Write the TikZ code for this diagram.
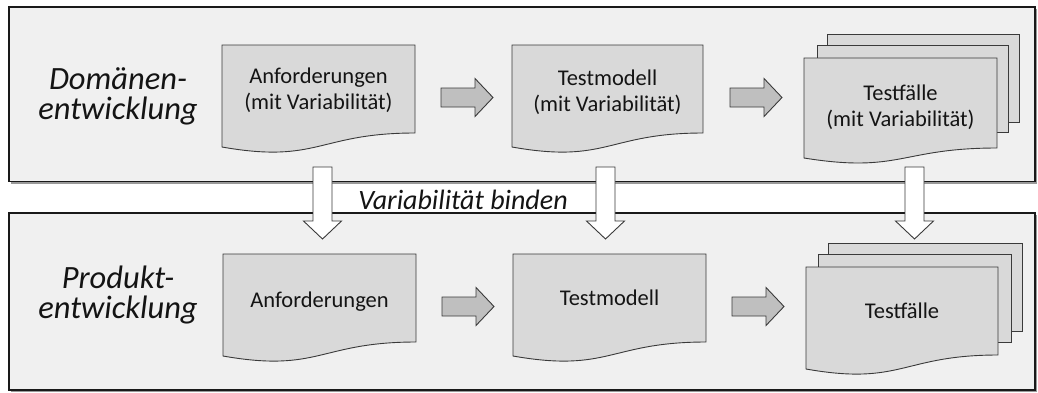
\documentclass[tikz,border=0pt]{standalone}
\usepackage{fontspec}
\setmainfont{Carlito}
\definecolor{panelfill}{HTML}{F0F0F0}
\definecolor{docfill}{HTML}{D9D9D9}
\definecolor{arrowfill}{HTML}{BFBFBF}
\definecolor{edgegray}{HTML}{3A3A3A}
\definecolor{inktext}{HTML}{141414}

% document sheet with wavy lower edge:
% #1 left, #2 top, #3 right, #4 right-edge drop, #5 left-edge drop, #6 wave control depth
\newcommand\docsheet[6]{%
  \filldraw[docstyle] (#1,#2) -- (#3,#2) -- (#3,#2+#4)
    .. controls ({(#1+#3)/2},#2+#4) and ({(#1+#3)/2},#2+#6) .. (#1,#2+#5) -- cycle;}

\begin{document}
\begin{tikzpicture}[x=1pt,y=-1pt,
  panel/.style={fill=panelfill,draw=black!90,line width=1.1pt},
  panelshadow/.style={fill=black!40},
  docstyle/.style={fill=docfill,draw=edgegray,line width=0.9pt},
  doctext/.style={font=\fontsize{22.5}{26}\selectfont,align=center,text=inktext,inner sep=0pt},
  phase/.style={font=\fontsize{32.5}{30}\selectfont\itshape,align=center,text=inktext,inner sep=0pt},
  bindlabel/.style={font=\fontsize{28}{30}\selectfont\itshape,text=inktext,inner sep=0pt,anchor=base},
  flowarrow/.style={fill=arrowfill,draw=edgegray,line width=0.9pt},
  bindarrow/.style={fill=white,draw=edgegray,line width=0.9pt},
  pics/rightarrow/.style={code={%
    \filldraw[flowarrow] (0,-9.5) -- (34,-9.5) -- (34,-19) -- (52,0) -- (34,19) -- (34,9.5) -- (0,9.5) -- cycle;}},
  pics/downarrow/.style={code={%
    \filldraw[bindarrow] (-9.5,0) -- (-9.5,54) -- (-19,54) -- (0,72) -- (19,54) -- (9.5,54) -- (9.5,0) -- cycle;}},
]
\useasboundingbox (0,0) rectangle (1038,392);
\fill[white] (0,0) rectangle (1038,392);

% the two phase panels
\fill[panelshadow] (11,9) rectangle (1037,183.5);
\filldraw[panel] (9,7) rectangle (1035,181.5);
\fill[panelshadow] (11,215) rectangle (1037,392);
\filldraw[panel] (9,213) rectangle (1035,390);

% domain engineering artefacts
\docsheet{222}{45}{415}{88}{102}{119}
\docsheet{512}{45}{703}{88}{102}{119}
\filldraw[docstyle] (827,34) rectangle (1019,122);
\filldraw[docstyle] (817,45) rectangle (1008,132);
\docsheet{804}{58}{997}{90}{100}{115.5}

% application engineering artefacts
\docsheet{223}{254}{416}{88}{102}{119}
\docsheet{513}{254}{706}{88}{102}{119}
\filldraw[docstyle] (828,243) rectangle (1022,331);
\filldraw[docstyle] (818,254) rectangle (1011,342);
\docsheet{806}{267}{998}{88}{102}{119}

% texts
\node[phase] (dom) at (118,96) {Domänen-\\entwicklung};
\node[phase] (prod) at (118,294.5) {Produkt-\\entwicklung};
\node[doctext] (req1) at (318.5,90) {Anforderungen\\(mit Variabilität)};
\node[doctext] (model1) at (607.5,92) {Testmodell\\(mit Variabilität)};
\node[doctext] (cases1) at (900.5,107) {Testfälle\\(mit Variabilität)};
\node[doctext,anchor=base] (req2) at (319.5,307) {Anforderungen};
\node[doctext,anchor=base] (model2) at (609.5,305) {Testmodell};
\node[doctext,anchor=base] (cases2) at (902,318) {Testfälle};
\node[bindlabel] (bind) at (463,209) {Variabilität binden};

% process flow arrows
\pic at (441,97.5) {rightarrow};
\pic at (730,97.5) {rightarrow};
\pic at (442,306.5) {rightarrow};
\pic at (732,306.5) {rightarrow};

% binding arrows between the phases
\pic at (322.5,167) {downarrow};
\pic at (605.5,167) {downarrow};
\pic at (914.5,167) {downarrow};
\end{tikzpicture}
\end{document}
